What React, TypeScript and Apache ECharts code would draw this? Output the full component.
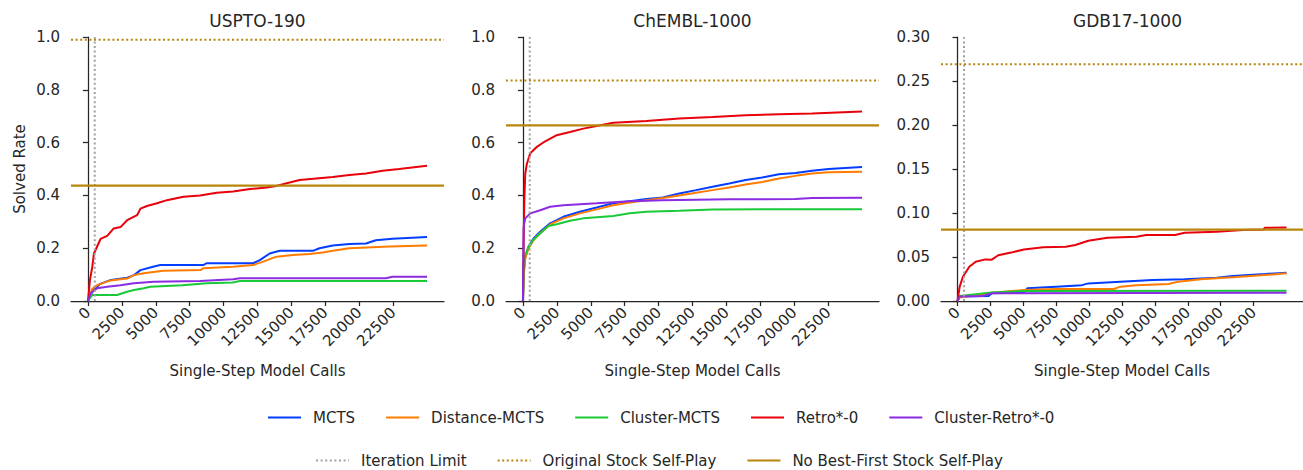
import React, { useEffect, useRef } from "react";
import * as echarts from "echarts";

type P = [number, number][];

const PANEL_TITLES = ["USPTO-190", "ChEMBL-1000", "GDB17-1000"];
const X_TICKS = [0, 2500, 5000, 7500, 10000, 12500, 15000, 17500, 20000, 22500];
const Y_MAX = [1.0, 1.0, 0.3];
const Y_INTERVAL = [0.2, 0.2, 0.05];
const Y_DECIMALS = [1, 1, 2];
const ITER_LIMIT = 500;
const ORIG_STOCK = [0.99, 0.835, 0.269];
const NO_BEST_FIRST = [0.437, 0.665, 0.081];

const USPTO_MCTS: P = [[0,0],[300,0.035],[900,0.065],[1700,0.08],[2900,0.088],[3400,0.098],[3870,0.117],[4800,0.13],[5330,0.136],[8500,0.136],[8740,0.143],[12180,0.143],[12670,0.155],[13400,0.18],[14140,0.19],[16580,0.19],[17070,0.2],[18050,0.21],[19270,0.216],[20500,0.218],[21220,0.23],[22450,0.236],[25000,0.242]];
const USPTO_DIST: P = [[0,0],[300,0.045],[690,0.06],[1660,0.078],[2890,0.085],[3380,0.098],[4110,0.105],[5560,0.115],[8300,0.117],[8490,0.124],[10710,0.13],[12180,0.136],[12920,0.149],[13890,0.168],[15110,0.174],[16340,0.178],[17310,0.184],[18050,0.19],[19270,0.2],[22210,0.206],[25000,0.21]];
const USPTO_CLUSTER: P = [[0,0],[320,0.023],[2150,0.023],[2880,0.035],[3400,0.042],[4100,0.048],[4590,0.054],[6950,0.06],[8760,0.067],[10670,0.07],[11200,0.076],[25000,0.076]];
const USPTO_RETRO: P = [[0,0],[150,0.08],[322,0.13],[440,0.18],[930,0.235],[1420,0.247],[1900,0.275],[2400,0.28],[2890,0.306],[3620,0.325],[3870,0.35],[4350,0.36],[5090,0.37],[5820,0.382],[7040,0.395],[8270,0.4],[9490,0.41],[10710,0.415],[11940,0.424],[13160,0.43],[13890,0.436],[14870,0.449],[15600,0.458],[16830,0.464],[18050,0.47],[19270,0.477],[20500,0.483],[21720,0.493],[22950,0.5],[25000,0.512]];
const USPTO_CRETRO: P = [[0,0],[200,0.029],[680,0.048],[1420,0.054],[2400,0.06],[3380,0.067],[4840,0.073],[8270,0.076],[10710,0.082],[11200,0.086],[21970,0.086],[22450,0.092],[25000,0.092]];

const CHEMBL_MCTS: P = [[0,0],[50,0.105],[170,0.168],[420,0.206],[780,0.237],[1270,0.262],[2000,0.294],[2980,0.319],[4200,0.338],[5430,0.354],[6650,0.37],[7870,0.378],[9090,0.386],[10310,0.392],[11530,0.407],[12760,0.42],[13980,0.433],[15200,0.445],[16420,0.458],[17640,0.468],[18870,0.48],[20090,0.485],[21310,0.493],[22530,0.5],[25000,0.508]];
const CHEMBL_DIST: P = [[0,0],[50,0.092],[170,0.161],[420,0.2],[780,0.23],[1270,0.258],[2000,0.29],[2980,0.313],[4200,0.332],[5430,0.347],[6650,0.363],[7870,0.373],[9090,0.382],[10310,0.39],[11530,0.4],[12760,0.41],[13980,0.42],[15200,0.43],[16420,0.441],[17640,0.451],[18870,0.464],[20090,0.474],[21310,0.483],[22530,0.488],[25000,0.49]];
const CHEMBL_CLUSTER: P = [[0,0],[50,0.13],[170,0.174],[420,0.206],[780,0.233],[1270,0.256],[1880,0.284],[2490,0.291],[3470,0.304],[4450,0.313],[6650,0.322],[7870,0.332],[9090,0.338],[11530,0.342],[13980,0.347],[25000,0.348]];
const CHEMBL_RETRO: P = [[0,0],[60,0.25],[100,0.38],[170,0.483],[290,0.52],[540,0.56],[1030,0.584],[1640,0.605],[2490,0.628],[3470,0.64],[4450,0.653],[5430,0.663],[6650,0.675],[9090,0.682],[11530,0.691],[13980,0.697],[16420,0.704],[18870,0.707],[21310,0.71],[25000,0.718]];
const CHEMBL_CRETRO: P = [[0,0],[30,0.2],[50,0.281],[170,0.313],[540,0.332],[1270,0.344],[2000,0.357],[2980,0.363],[5430,0.37],[7870,0.378],[10310,0.382],[15200,0.385],[20090,0.386],[21310,0.39],[25000,0.391]];

const GDB_MCTS: P = [[0,0],[170,0.005],[2370,0.0057],[2610,0.0087],[5050,0.0095],[5300,0.0144],[7500,0.0163],[9450,0.018],[9940,0.02],[12380,0.022],[14820,0.0238],[17260,0.0246],[19700,0.0265],[20920,0.0284],[23360,0.0306],[25000,0.0322]];
const GDB_DIST: P = [[0,0],[170,0.004],[1390,0.0068],[2610,0.0095],[5050,0.0125],[7500,0.0136],[11890,0.0136],[12380,0.0163],[13600,0.018],[16040,0.0193],[16770,0.022],[18480,0.0246],[20920,0.027],[23360,0.0295],[25000,0.0314]];
const GDB_CLUSTER: P = [[0,0],[170,0.0057],[2610,0.0098],[5050,0.0114],[25000,0.0117]];
const GDB_RETRO: P = [[0,0],[170,0.0163],[415,0.0276],[900,0.039],[1390,0.0446],[2120,0.0473],[2610,0.047],[3100,0.052],[4080,0.055],[5050,0.0586],[6520,0.061],[8230,0.0617],[8960,0.0636],[9940,0.0685],[11400,0.0719],[13600,0.073],[14330,0.0749],[16530,0.075],[17260,0.0776],[19700,0.0787],[21660,0.0806],[23240,0.0813],[23360,0.0832],[25000,0.0836]];
const GDB_CRETRO: P = [[0,0],[170,0.005],[1900,0.0057],[2610,0.0087],[25000,0.0095]];

const METHODS = ["MCTS", "Distance-MCTS", "Cluster-MCTS", "Retro*-0", "Cluster-Retro*-0"];
const METHOD_COLORS = ["#023eff", "#ff7c00", "#1ac938", "#e8000b", "#8b2be2"];
const PANEL_DATA: P[][] = [
  [USPTO_MCTS, USPTO_DIST, USPTO_CLUSTER, USPTO_RETRO, USPTO_CRETRO],
  [CHEMBL_MCTS, CHEMBL_DIST, CHEMBL_CLUSTER, CHEMBL_RETRO, CHEMBL_CRETRO],
  [GDB_MCTS, GDB_DIST, GDB_CLUSTER, GDB_RETRO, GDB_CRETRO],
];
const REF_NAMES = ["Iteration Limit", "Original Stock Self-Play", "No Best-First Stock Self-Play"];

const X_MIN = -1250;
const X_MAX = 26250;
const GRID_LEFTS = [71, 506, 941];
const GRID_W = 373;
const FONT = "DejaVu Sans";
const INK = "#262626";
const GOLD = "#b8860b";
const GRAY = "#a0a0a0";

export default function App() {
  const ref = useRef<HTMLDivElement>(null);
  useEffect(() => {
    if (!ref.current) return;
    const chart = echarts.init(ref.current, undefined, { renderer: "svg" });
    const grids = GRID_LEFTS.map((l) => ({ left: l, top: 37, width: GRID_W, height: 264 }));
    const xAxes = GRID_LEFTS.map((_, i) => ({
      type: "value",
      gridIndex: i,
      min: X_MIN,
      max: X_MAX,
      name: "Single-Step Model Calls",
      nameLocation: "middle",
      nameGap: 62,
      nameTextStyle: { fontFamily: FONT, fontSize: 15, color: INK },
      splitLine: { show: false },
      axisLine: { show: true, onZero: false, lineStyle: { color: INK, width: 1.25 } },
      axisTick: { show: true, length: 5, customValues: X_TICKS, lineStyle: { color: INK, width: 1.25 } },
      axisLabel: {
        customValues: X_TICKS,
        rotate: 45,
        margin: 9,
        fontFamily: FONT,
        fontSize: 15,
        color: INK,
        formatter: (v: number) => String(v),
      },
    }));
    const yAxes = GRID_LEFTS.map((_, i) => ({
      type: "value",
      gridIndex: i,
      min: 0,
      max: Y_MAX[i],
      interval: Y_INTERVAL[i],
      name: i === 0 ? "Solved Rate" : "",
      nameLocation: "middle",
      nameGap: 44,
      nameTextStyle: { fontFamily: FONT, fontSize: 15, color: INK },
      splitLine: { show: false },
      axisLine: { show: true, lineStyle: { color: INK, width: 1.25 } },
      axisTick: { show: true, length: 5, lineStyle: { color: INK, width: 1.25 } },
      axisLabel: {
        margin: 11,
        fontFamily: FONT,
        fontSize: 15,
        color: INK,
        formatter: (v: number) => v.toFixed(Y_DECIMALS[i]),
      },
    }));
    const series: any[] = [];
    PANEL_DATA.forEach((curves, p) => {
      curves.forEach((d, m) => {
        series.push({
          type: "line",
          name: METHODS[m],
          xAxisIndex: p,
          yAxisIndex: p,
          data: d,
          showSymbol: false,
          symbol: "none",
          lineStyle: { color: METHOD_COLORS[m], width: 2 },
          itemStyle: { color: METHOD_COLORS[m] },
        });
      });
      series.push({
        type: "line",
        name: REF_NAMES[0],
        xAxisIndex: p,
        yAxisIndex: p,
        data: [[ITER_LIMIT, 0], [ITER_LIMIT, Y_MAX[p]]],
        symbol: "none",
        lineStyle: { color: GRAY, width: 2, type: [2, 2.6] },
        itemStyle: { color: GRAY },
      });
      series.push({
        type: "line",
        name: REF_NAMES[1],
        xAxisIndex: p,
        yAxisIndex: p,
        data: [[X_MIN, ORIG_STOCK[p]], [X_MAX, ORIG_STOCK[p]]],
        symbol: "none",
        lineStyle: { color: GOLD, width: 2, type: [2, 2.6] },
        itemStyle: { color: GOLD },
      });
      series.push({
        type: "line",
        name: REF_NAMES[2],
        xAxisIndex: p,
        yAxisIndex: p,
        data: [[X_MIN, NO_BEST_FIRST[p]], [X_MAX, NO_BEST_FIRST[p]]],
        symbol: "none",
        lineStyle: { color: GOLD, width: 2.2 },
        itemStyle: { color: GOLD },
      });
    });
    const legendText = { fontFamily: FONT, fontSize: 15, color: INK, padding: [0, 0, 0, 7] };
    chart.setOption({
      animation: false,
      backgroundColor: "#ffffff",
      title: PANEL_TITLES.map((t, i) => ({
        text: t,
        left: GRID_LEFTS[i] + GRID_W / 2,
        top: 12,
        padding: 0,
        textAlign: "center",
        textStyle: { fontFamily: FONT, fontSize: 17, fontWeight: "normal", color: INK },
      })),
      legend: [
        {
          data: METHODS,
          left: 267,
          top: 410,
          padding: 0,
          itemWidth: 33,
          itemHeight: 14,
          itemGap: 30,
          itemStyle: { opacity: 0 },
          textStyle: legendText,
        },
        {
          data: REF_NAMES,
          left: 315,
          top: 453,
          padding: 0,
          itemWidth: 33,
          itemHeight: 14,
          itemGap: 30,
          itemStyle: { opacity: 0 },
          textStyle: legendText,
        },
      ],
      grid: grids,
      xAxis: xAxes,
      yAxis: yAxes,
      series,
    });
    return () => chart.dispose();
  }, []);
  return (
    <div
      ref={ref}
      style={{ position: "absolute", left: 0, top: 0, width: 1303, height: 470 }}
    />
  );
}
